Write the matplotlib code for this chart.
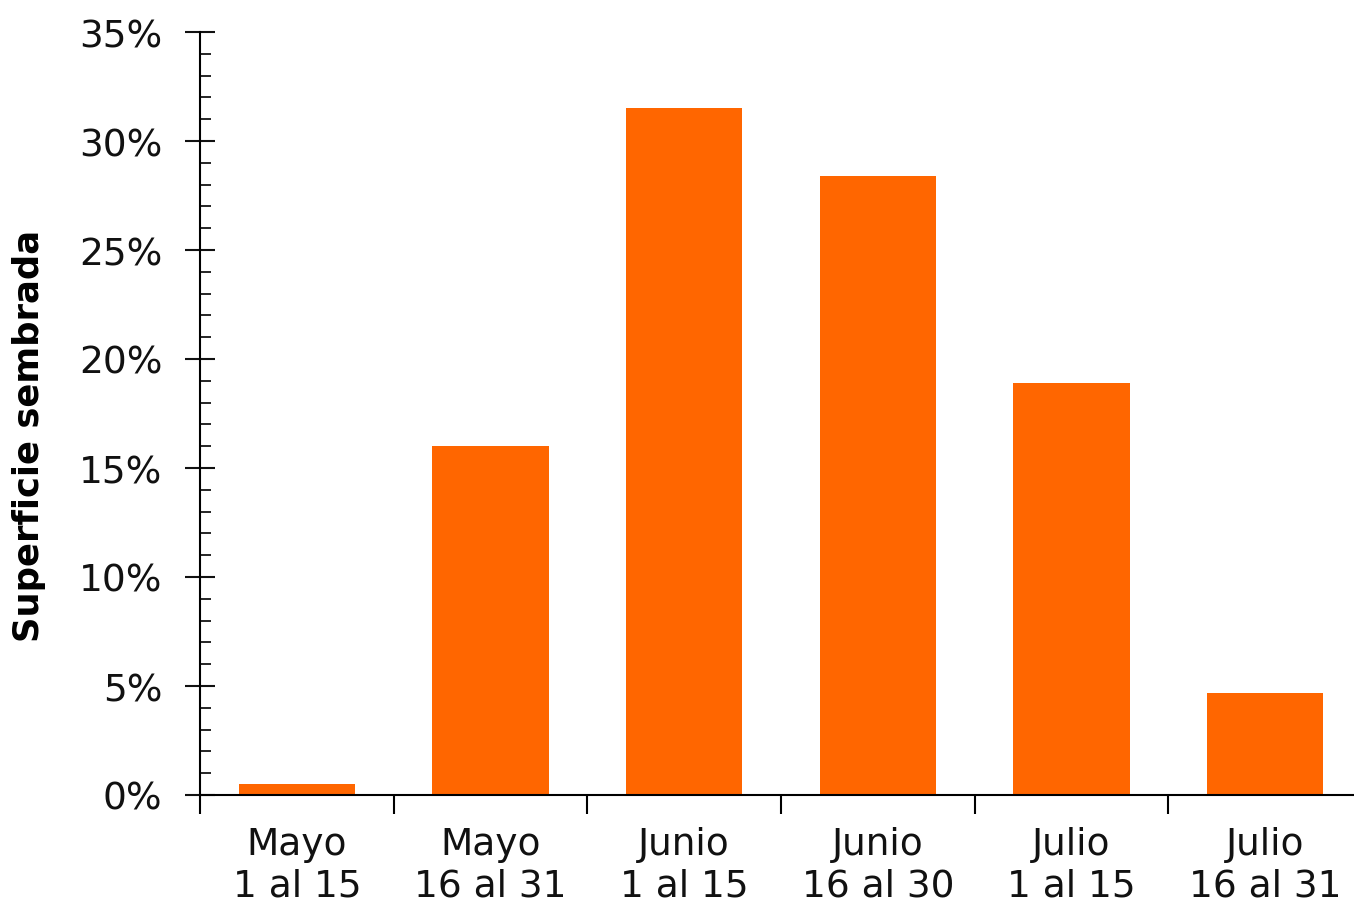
import matplotlib
matplotlib.use("Agg")
import matplotlib.pyplot as plt
from matplotlib.ticker import MultipleLocator, FuncFormatter

categories = ["Mayo\n1 al 15", "Mayo\n16 al 31", "Junio\n1 al 15",
              "Junio\n16 al 30", "Julio\n1 al 15", "Julio\n16 al 31"]
values = [0.5, 16.0, 31.5, 28.4, 18.9, 4.7]
y_label = "Superficie sembrada"

plt.rcParams['font.family'] = ['DejaVu Sans']

fig = plt.figure(figsize=(13.54, 9.04), dpi=100)
ax = fig.add_axes([200/1354, 1-796/904, 1162/1354, (796-33)/904])

x = list(range(len(categories)))
ax.bar(x, values, width=0.6, color="#FF6600", zorder=2)

ax.set_xlim(-0.5, len(categories) - 0.5)
ax.set_ylim(0, 35)

ax.spines['top'].set_visible(False)
ax.spines['right'].set_visible(False)
ax.spines['left'].set_linewidth(1.5)
ax.spines['bottom'].set_linewidth(1.5)

ax.yaxis.set_major_locator(MultipleLocator(5))
ax.yaxis.set_minor_locator(MultipleLocator(1))
ax.yaxis.set_major_formatter(FuncFormatter(lambda v, p: f"{int(v)}%"))
ax.tick_params(axis='y', which='major', direction='inout', length=22, width=1.5,
               labelsize=27, pad=16, colors='#111111')
ax.tick_params(axis='y', which='minor', direction='in', length=8, width=1.2)

# x: ticks at boundaries, labels at centers
ax.set_xticks([i - 0.5 for i in range(len(categories) + 1)])
ax.set_xticklabels([])
ax.set_xticks(x, minor=True)
ax.set_xticklabels(categories, minor=True, fontsize=27, color='#111111',
                   linespacing=1.22)
ax.tick_params(axis='x', which='major', direction='out', length=14, width=1.5)
ax.tick_params(axis='x', which='minor', length=0, pad=22)

ax.set_ylabel(y_label, fontsize=25.5, fontweight='bold', labelpad=24)
ax.yaxis.label.set_y(0.472)

fig.savefig("out.png", dpi=100)
